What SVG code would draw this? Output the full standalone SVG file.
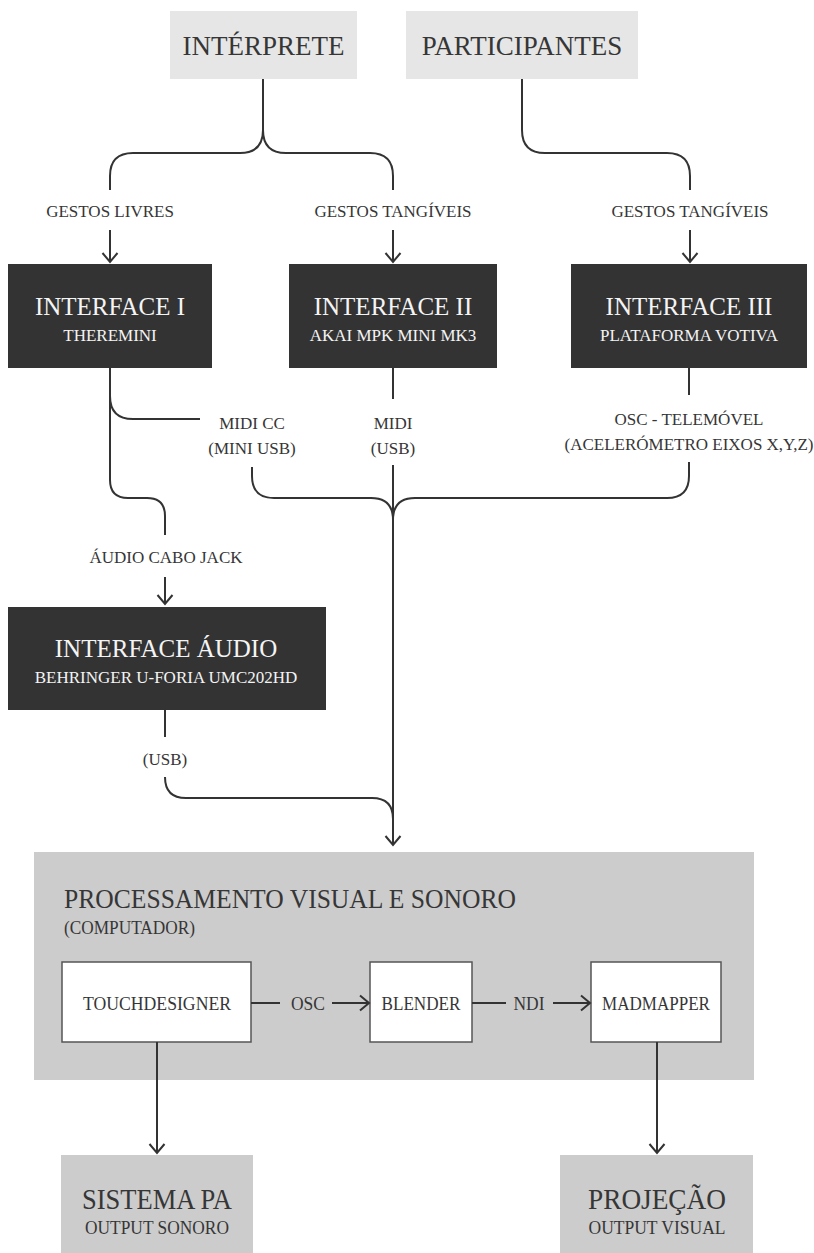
<svg xmlns="http://www.w3.org/2000/svg" width="814" height="1253" viewBox="0 0 814 1253">
<defs>
<marker id="arr" markerUnits="userSpaceOnUse" viewBox="0 0 12 18" refX="10.5" refY="9" markerWidth="12" markerHeight="18" orient="auto">
<path d="M1.5,1.5 L10.5,9 L1.5,16.5" fill="none" stroke="#333" stroke-width="2"/>
</marker>
<style>
text{font-family:"Liberation Serif","Times New Roman",serif;text-anchor:middle;fill:#363636}
.top{fill:#e6e6e6}
.dark{fill:#333333}
.lt{fill:#f4f4f4}
.grey{fill:#cccccc}
.wbox{fill:#ffffff;stroke:#555555;stroke-width:1.5}
.t27{font-size:27px}
.t25{font-size:25px}
.t17{font-size:17px}
.t19{font-size:19px}
.c{fill:none;stroke:#333333;stroke-width:2}
.a{marker-end:url(#arr)}
.s{text-anchor:start}
</style>
</defs>

<g id="interprete">
<rect class="top" x="170" y="11" width="187" height="68"/>
<text class="t27" x="263.5" y="55">INTÉRPRETE</text>
</g>
<g id="participantes">
<rect class="top" x="406" y="11" width="232" height="68"/>
<text class="t27" x="522" y="55">PARTICIPANTES</text>
</g>

<g id="interface1">
<rect class="dark" x="8" y="264" width="204" height="104"/>
<text class="t25 lt" x="110" y="315">INTERFACE I</text>
<text class="t17 lt" x="110" y="341">THEREMINI</text>
</g>
<g id="interface2">
<rect class="dark" x="289" y="264" width="208" height="104"/>
<text class="t25 lt" x="393" y="315">INTERFACE II</text>
<text class="t17 lt" x="393" y="341">AKAI MPK MINI MK3</text>
</g>
<g id="interface3">
<rect class="dark" x="571" y="264" width="236" height="104"/>
<text class="t25 lt" x="689" y="315">INTERFACE III</text>
<text class="t17 lt" x="689" y="341">PLATAFORMA VOTIVA</text>
</g>

<g id="interface-audio">
<rect class="dark" x="8" y="607" width="318" height="103"/>
<text class="t25 lt" x="166" y="657">INTERFACE ÁUDIO</text>
<text class="t17 lt" x="166" y="683">BEHRINGER U-FORIA UMC202HD</text>
</g>

<g id="processamento">
<rect class="grey" x="34" y="852" width="720" height="228"/>
<text class="s" x="64" y="908" font-size="27" textLength="452" lengthAdjust="spacingAndGlyphs">PROCESSAMENTO VISUAL E SONORO</text>
<text class="s" x="64" y="934" font-size="18" textLength="131" lengthAdjust="spacingAndGlyphs">(COMPUTADOR)</text>
</g>
<g id="touchdesigner">
<rect class="wbox" x="62" y="962" width="189" height="80"/>
<text class="t19" x="157" y="1010" textLength="148" lengthAdjust="spacingAndGlyphs">TOUCHDESIGNER</text>
</g>
<g id="blender">
<rect class="wbox" x="370" y="962" width="102" height="80"/>
<text class="t19" x="421" y="1010" textLength="79" lengthAdjust="spacingAndGlyphs">BLENDER</text>
</g>
<g id="madmapper">
<rect class="wbox" x="591" y="962" width="130" height="80"/>
<text class="t19" x="656" y="1010" textLength="108" lengthAdjust="spacingAndGlyphs">MADMAPPER</text>
</g>

<g id="sistema-pa">
<rect class="grey" x="61" y="1155" width="192" height="98"/>
<text x="157" y="1209" font-size="29" textLength="150" lengthAdjust="spacingAndGlyphs">SISTEMA PA</text>
<text class="t19" x="157" y="1234" textLength="144" lengthAdjust="spacingAndGlyphs">OUTPUT SONORO</text>
</g>
<g id="projecao">
<rect class="grey" x="560" y="1155" width="193" height="98"/>
<text x="657" y="1209" font-size="29" textLength="138" lengthAdjust="spacingAndGlyphs">PROJEÇÃO</text>
<text class="t19" x="657" y="1234" textLength="137" lengthAdjust="spacingAndGlyphs">OUTPUT VISUAL</text>
</g>

<g id="labels">
<text class="t17" x="110" y="217">GESTOS LIVRES</text>
<text class="t17" x="393" y="217">GESTOS TANGÍVEIS</text>
<text class="t17" x="690" y="217">GESTOS TANGÍVEIS</text>
<text class="t17" x="252" y="429">MIDI CC</text>
<text class="t17" x="252" y="454">(MINI USB)</text>
<text class="t17" x="393" y="429">MIDI</text>
<text class="t17" x="393" y="454">(USB)</text>
<text class="t17" x="689" y="425">OSC - TELEMÓVEL</text>
<text class="t17" x="689" y="450">(ACELERÓMETRO EIXOS X,Y,Z)</text>
<text class="t17" x="166" y="563">ÁUDIO CABO JACK</text>
<text class="t17" x="165" y="765">(USB)</text>
<text class="t19" x="308" y="1010" textLength="34" lengthAdjust="spacingAndGlyphs">OSC</text>
<text class="t19" x="529" y="1010" textLength="31" lengthAdjust="spacingAndGlyphs">NDI</text>
</g>

<g id="connectors">
<path class="c" d="M263,79 V130 Q263,153 240,153 H133 Q110,153 110,176 V190"/>
<path class="c" d="M263,130 Q263,153 286,153 H370 Q393,153 393,176 V190"/>
<path class="c" d="M522,79 V130 Q522,153 545,153 H667 Q690,153 690,176 V190"/>
<path class="c a" d="M110,230 V262"/>
<path class="c a" d="M393,230 V262"/>
<path class="c a" d="M690,230 V262"/>
<path class="c" d="M110,368 V480 Q110,498 128,498 H147 Q165,498 165,516 V535"/>
<path class="c" d="M110,396 Q110,419 133,419 H200"/>
<path class="c" d="M393,368 V399"/>
<path class="c" d="M689,368 V395"/>
<path class="c" d="M252,467 V476 Q252,498 274,498 H371 Q393,498 393,520"/>
<path class="c" d="M689,462 V476 Q689,498 667,498 H415 Q393,498 393,520"/>
<path class="c a" d="M393,465 V845"/>
<path class="c a" d="M165,577 V604"/>
<path class="c" d="M165,710 V737"/>
<path class="c" d="M165,777 Q165,798 186,798 H372 Q393,798 393,819"/>
<path class="c" d="M251,1003 H280"/>
<path class="c a" d="M332,1003 H369"/>
<path class="c" d="M472,1003 H506"/>
<path class="c a" d="M553,1003 H590"/>
<path class="c a" d="M157,1042 V1153"/>
<path class="c a" d="M657,1042 V1153"/>
</g>
</svg>
